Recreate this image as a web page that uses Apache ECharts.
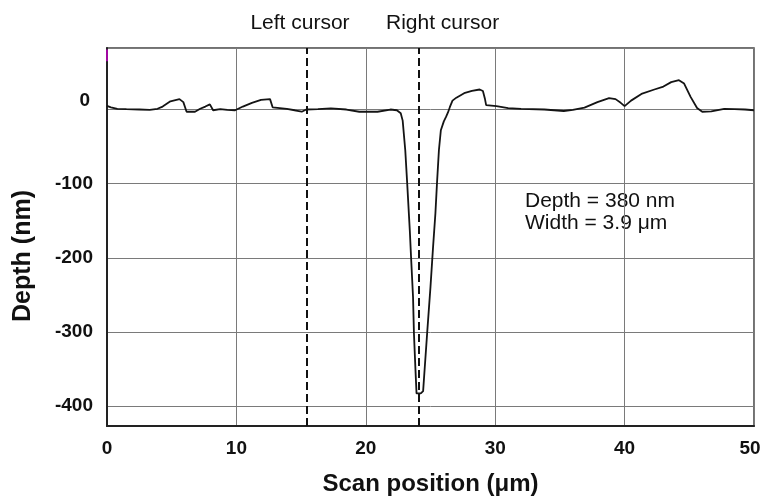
<!DOCTYPE html>
<html>
<head>
<meta charset="utf-8">
<script src="https://cdn.jsdelivr.net/npm/echarts@6/dist/echarts.min.js"></script>
<style>
html,body{margin:0;padding:0;background:#fff;}
#c{width:763px;height:498px;}
</style>
</head>
<body>
<div id="c"></div>
<script>
// Scan position (µm)
var scanX = [0, 0.3, 0.8, 1.5, 2.5, 3.3, 3.9, 4.3, 4.9, 5.6, 5.9, 6.15, 6.8, 7.2, 7.6, 7.95, 8.2, 8.75, 9.3, 9.9,
  10.5, 11.2, 11.9, 12.6, 12.8, 13.9, 14.5, 15.05, 15.4, 16.3, 17.3, 18.5, 19.5, 20.9, 21.9, 22.4, 22.7, 22.85, 23.05, 23.2,
  23.4, 23.5, 23.65, 23.72, 23.84, 23.92, 24.05, 24.25, 24.43, 24.56, 24.74, 25.0, 25.2, 25.38, 25.5, 25.65, 25.8, 26.03, 26.2, 26.35,
  26.5, 26.7, 27.0, 27.6, 28.2, 28.8, 29.05, 29.2, 29.3, 30.1, 31.0, 32.0, 33.8, 35.3, 36.0, 36.9, 37.9, 38.8, 39.3, 39.7,
  40.0, 40.5, 41.3, 42.3, 43.0, 43.6, 44.2, 44.6, 45.1, 45.6, 46.0, 46.7, 47.7, 48.5, 49.3, 50];
// Depth (nm)
var depth = [5, 3, 1, 0.5, 0, -0.5, 1, 4, 11, 14, 10, -3, -3, 1, 4, 7, -1, 0.5, -0.5, -1,
  4, 9, 13, 14, 3, 1, -1, -3, 0, 0.5, 1.5, 0, -3, -3, 0, -1, -5, -15, -55, -100,
  -163, -200, -253, -302, -352, -383, -384, -383, -380, -347, -302, -239, -185, -140, -100, -55, -28, -16, -10, -4,
  3.5, 12, 16, 22, 25, 27, 25, 15, 6, 4.5, 2, 1, 0, -2, -0.5, 2.5, 10, 15.5, 14, 9,
  4.5, 12, 21, 27, 31, 37, 39.5, 35, 17, 2, -3, -2.5, 1, 0.5, 0, -1];

var cursorPositions = [15.4, 24.1];
var cursorLabels = ['Left cursor', 'Right cursor'];
var xTickValues = [0, 10, 20, 30, 40, 50];
var yTickValues = [0, -100, -200, -300, -400];
var annotationLines = ['Depth = 380 nm', 'Width = 3.9 \u03bcm'];
var xTitle = 'Scan position (\u03bcm)';
var yTitle = 'Depth (nm)';

var FONT = '"Liberation Sans", Arial, Helvetica, sans-serif';

var seriesData = scanX.map(function (x, i) { return [x, depth[i]]; });

var chart = echarts.init(document.getElementById('c'), null, {renderer: 'canvas'});
chart.setOption({
  animation: false,
  backgroundColor: '#ffffff',
  grid: {left: 107, right: 9, top: 48, bottom: 72, containLabel: false, outerBoundsMode: 'none',
    show: true, borderColor: '#444', borderWidth: 1.5, backgroundColor: 'transparent'},
  xAxis: {
    type: 'value', min: 0, max: 50, interval: 10,
    name: xTitle, nameLocation: 'middle', nameGap: 46,
    nameTextStyle: {fontFamily: FONT, fontWeight: 'bold', fontSize: 24, color: '#111'},
    axisLine: {show: true, onZero: false, lineStyle: {color: '#222', width: 2}},
    axisTick: {show: false},
    splitLine: {show: true, lineStyle: {color: '#7a7a7a', width: 1}},
    axisLabel: {
      margin: 13, fontFamily: FONT, fontWeight: 'bold', fontSize: 19, color: '#111',
      formatter: function (v) {
        if (xTickValues.indexOf(v) < 0) return '';
        return v === 50 ? '{r|50}' : String(v);
      },
      rich: {r: {fontFamily: FONT, fontWeight: 'bold', fontSize: 19, color: '#111', padding: [0, 8, 0, 0]}}
    }
  },
  yAxis: {
    type: 'value', min: -427, max: 83, splitNumber: 5,
    axisLine: {show: true, onZero: false, lineStyle: {color: '#222', width: 2}},
    axisTick: {show: false},
    splitLine: {show: true, lineStyle: {color: '#7a7a7a', width: 1}},
    axisLabel: {
      margin: 14, fontFamily: FONT, fontWeight: 'bold', fontSize: 19, color: '#111',
      showMinLabel: false, showMaxLabel: false,
      formatter: function (v) {
        if (yTickValues.indexOf(v) < 0) return '';
        return v === 0 ? '{z|0}' : String(v);
      },
      rich: {z: {fontFamily: FONT, fontWeight: 'bold', fontSize: 19, color: '#111', padding: [0, 3, 18, 0]}}
    }
  },
  series: [{
    type: 'line',
    data: seriesData,
    symbol: 'none',
    smooth: false,
    lineStyle: {color: '#141414', width: 1.8},
    markLine: {
      silent: true,
      symbol: 'none',
      animation: false,
      label: {show: false},
      data: cursorPositions.map(function (p) {
        return {xAxis: p, lineStyle: {color: '#111', width: 2, type: [8, 4]}};
      }).concat([
        [{coord: [0, 81], lineStyle: {color: '#c0c', width: 1.5, type: 'solid'}}, {coord: [0, 65]}]
      ])
    }
  }],
  graphic: [
    {type: 'text', x: 300, y: 23, style: {text: cursorLabels[0], font: '21px ' + FONT, fill: '#111', align: 'center', verticalAlign: 'middle'}},
    {type: 'text', x: 386, y: 23, style: {text: cursorLabels[1], font: '21px ' + FONT, fill: '#111', align: 'left', verticalAlign: 'middle'}},
    {type: 'text', x: 525, y: 190, style: {text: annotationLines.join('\n'), font: '21px ' + FONT, fill: '#111', lineHeight: 22}},
    {type: 'text', x: 23, y: 256, rotation: Math.PI / 2, style: {text: yTitle, font: 'bold 25px ' + FONT, fill: '#111', align: 'center', verticalAlign: 'middle'}}
  ]
});
</script>
</body>
</html>
